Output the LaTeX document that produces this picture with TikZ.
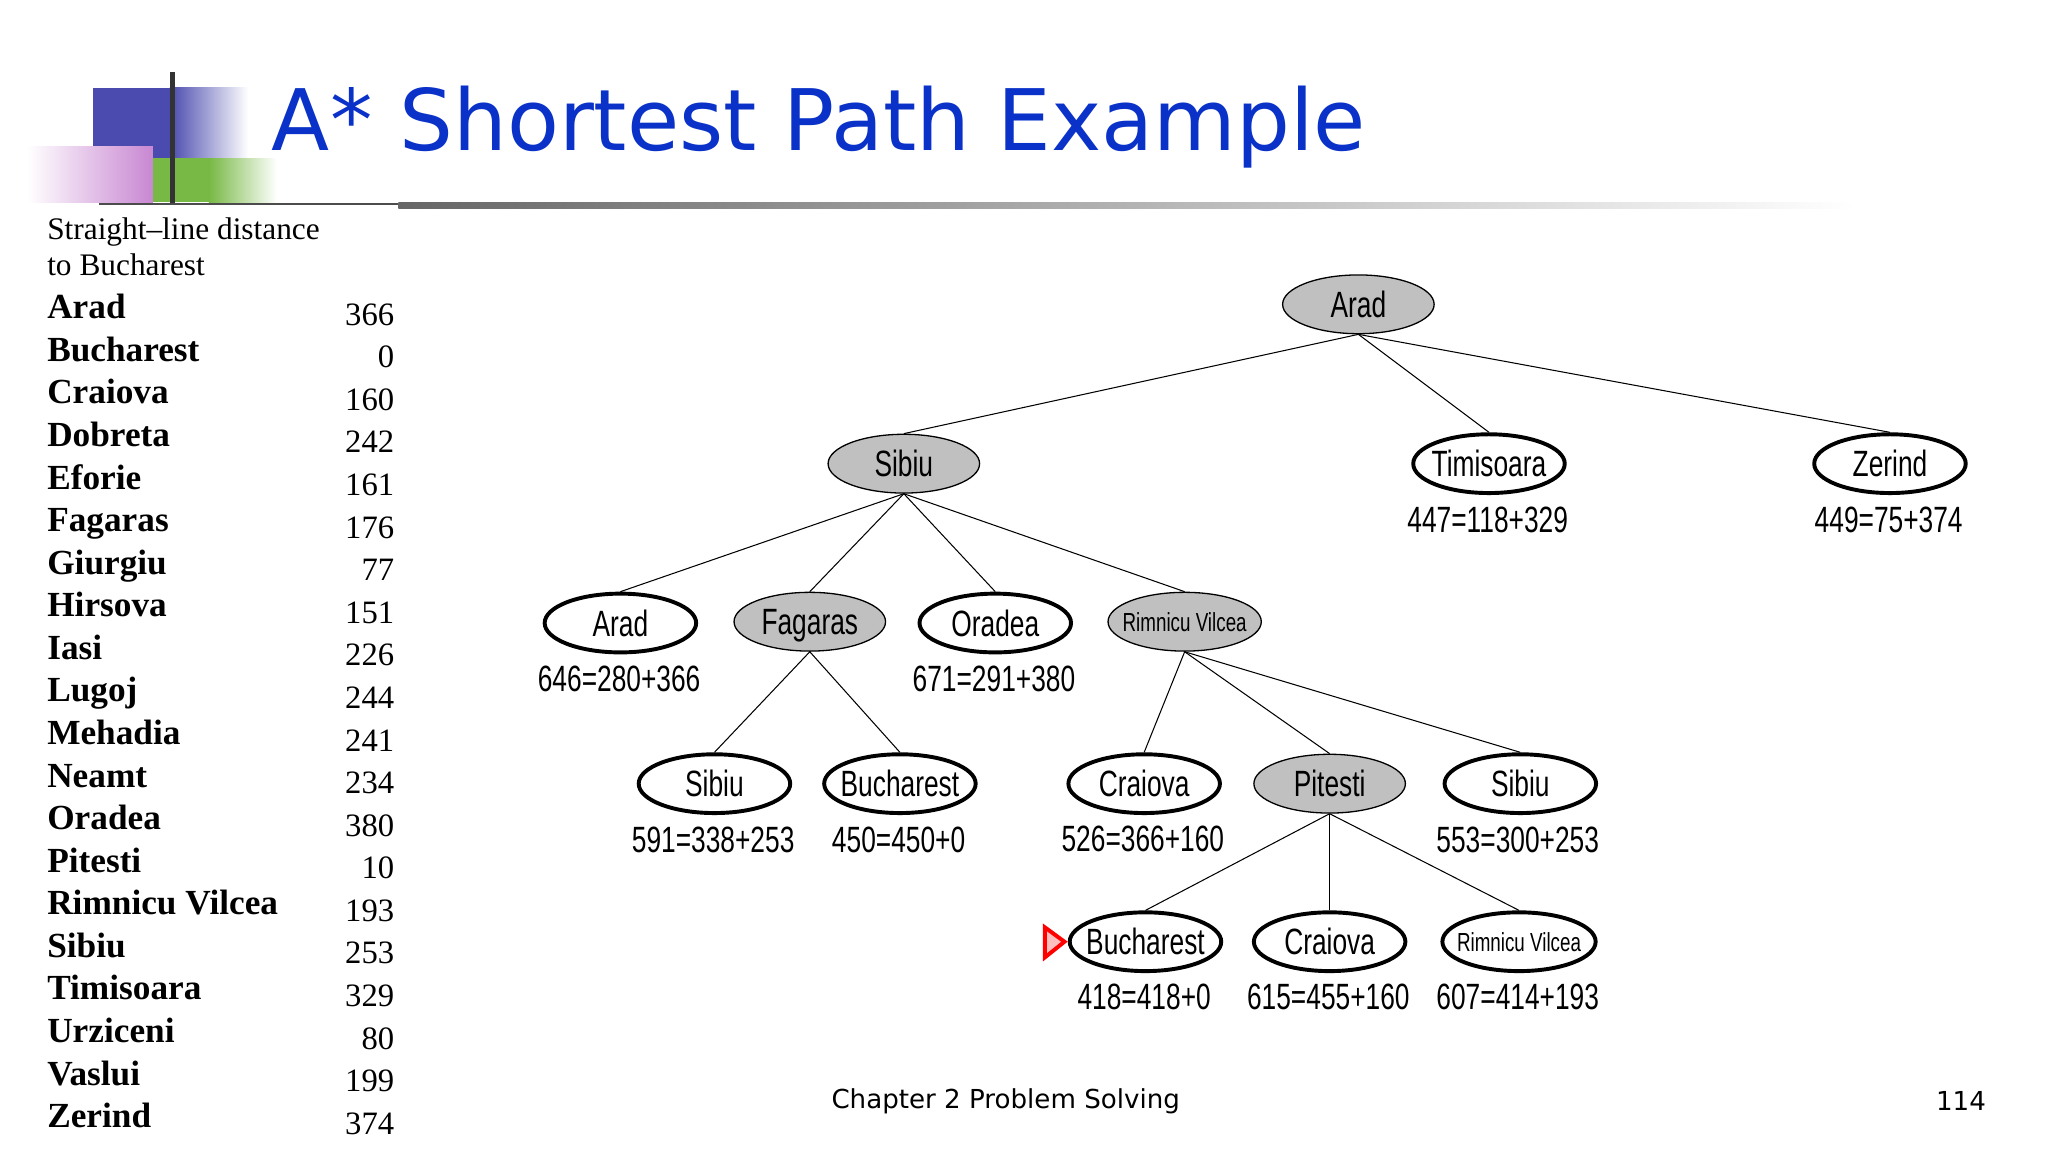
\documentclass[tikz,border=0pt]{standalone}
\usepackage{fontspec}
\setmainfont{Liberation Serif}
\newfontfamily\narrow[FakeStretch=0.72]{Liberation Sans}
\newfontfamily\titlefont{DejaVu Sans}
\usetikzlibrary{shapes.geometric}
\definecolor{titleblue}{RGB}{10,50,200}
\definecolor{nodegray}{RGB}{192,192,192}
\definecolor{logoblue}{RGB}{75,75,175}
\definecolor{logopink}{RGB}{200,135,210}
\definecolor{logogreen}{RGB}{120,185,70}
\begin{document}
\begin{tikzpicture}[x=1pt,y=-1pt,
  tn/.style={ellipse,draw=black,line width=3pt,minimum width=116pt,minimum height=45pt,inner ysep=0pt,inner xsep=-6pt,text height=20pt,text depth=0pt,font=\narrow\fontsize{28}{28}\selectfont},
  gn/.style={tn,fill=nodegray,line width=1pt},
  val/.style={font=\narrow\fontsize{28}{28}\selectfont},
  edge/.style={line width=0.8pt},
  city/.style={anchor=base west,font=\bfseries\fontsize{27}{27}\selectfont},
  dist/.style={anchor=base east,font=\fontsize{25}{25}\selectfont}]
\useasboundingbox (0,0) rectangle (1568,882);
% logo
\fill[logoblue] (71,67) rectangle (130,121);
\shade[left color=logoblue,right color=white] (130,67) rectangle (190,121);
\fill[logogreen] (117,121) rectangle (160,155);
\shade[left color=logogreen,right color=white] (160,121) rectangle (212,155);
\shade[left color=white,right color=logopink] (21,112) rectangle (117,155);
\fill[black!80] (130,55) rectangle (134,156);
\draw[black!70,line width=1.2pt] (76,156) -- (305,156);
\shade[left color=black!60,right color=white] (305,155) rectangle (1420,160);
\node[anchor=base west,inner sep=0pt,text=titleblue,font=\titlefont\fontsize{65}{65}\selectfont] (title) at (208,115) {A* Shortest Path Example};
% table
\node[anchor=base west,inner sep=0pt,font=\fontsize{24}{24}\selectfont] (h1) at (36,183) {Straight--line distance};
\node[anchor=base west,inner sep=0pt,font=\fontsize{24}{24}\selectfont] (h2) at (36,211) {to Bucharest};
\foreach \c/\d [count=\i from 0] in {Arad/366,Bucharest/0,Craiova/160,Dobreta/242,Eforie/161,Fagaras/176,Giurgiu/77,Hirsova/151,Iasi/226,Lugoj/244,Mehadia/241,Neamt/234,Oradea/380,Pitesti/10,Rimnicu Vilcea/193,Sibiu/253,Timisoara/329,Urziceni/80,Vaslui/199,Zerind/374}{
  \node[city,inner sep=0pt] (c\i) at (36,{244+32.6*\i}) {\c};
  \node[dist,inner sep=0pt] (d\i) at (302,{249+32.6*\i}) {\d};
}
% tree
\node[gn] (arad) at (1040,233) {Arad};
\node[gn] (sib) at (692,355) {Sibiu};
\node[tn] (tim) at (1140,355) {Timisoara};
\node[tn] (zer) at (1447,355) {Zerind};
\node[tn] (arad2) at (475,477) {Arad};
\node[gn] (fag) at (620,476) {Fagaras};
\node[tn] (ora) at (762,477) {Oradea};
\node[gn,font=\narrow\fontsize{20}{20}\selectfont,text height=15pt] (rv) at (907,476) {Rimnicu Vilcea};
\node[tn] (sib2) at (547,600) {Sibiu};
\node[tn] (buc) at (689,600) {Bucharest};
\node[tn] (cra) at (876,600) {Craiova};
\node[gn] (pit) at (1018,600) {Pitesti};
\node[tn] (sib3) at (1164,600) {Sibiu};
\node[tn] (buc2) at (877,721) {Bucharest};
\node[tn] (cra2) at (1018,721) {Craiova};
\node[tn,font=\narrow\fontsize{20}{20}\selectfont,text height=15pt] (rv2) at (1163,721) {Rimnicu Vilcea};
\node[val] (vtim) at (1139,398) {447=118+329};
\node[val] (vzer) at (1446,398) {449=75+374};
\node[val] (varad2) at (474,520) {646=280+366};
\node[val] (vora) at (761,520) {671=291+380};
\node[val] (vsib2) at (546,643) {591=338+253};
\node[val] (vbuc) at (688,643) {450=450+0};
\node[val] (vcra) at (875,642) {526=366+160};
\node[val] (vsib3) at (1162,643) {553=300+253};
\node[val] (vbuc2) at (876,763) {418=418+0};
\node[val] (vcra2) at (1017,763) {615=455+160};
\node[val] (vrv2) at (1162,763) {607=414+193};
\foreach \a/\b in {arad/sib,arad/tim,arad/zer,sib/arad2,sib/fag,sib/ora,sib/rv,fag/sib2,fag/buc,rv/cra,rv/pit,rv/sib3,pit/buc2,pit/cra2,pit/rv2}
  \draw[edge] (\a.south) -- (\b.north);
\coordinate (ra) at (815,721);
\draw[red,line width=3pt,fill=red!25,line join=miter] (ra) -- (800,710) -- (800,733) -- cycle;
% footer
\node[font=\titlefont\fontsize{20}{20}\selectfont] (foot) at (770,843) {Chapter 2 Problem Solving};
\node[anchor=east,font=\titlefont\fontsize{20}{20}\selectfont] (page) at (1524,843) {114};
\end{tikzpicture}
\end{document}
